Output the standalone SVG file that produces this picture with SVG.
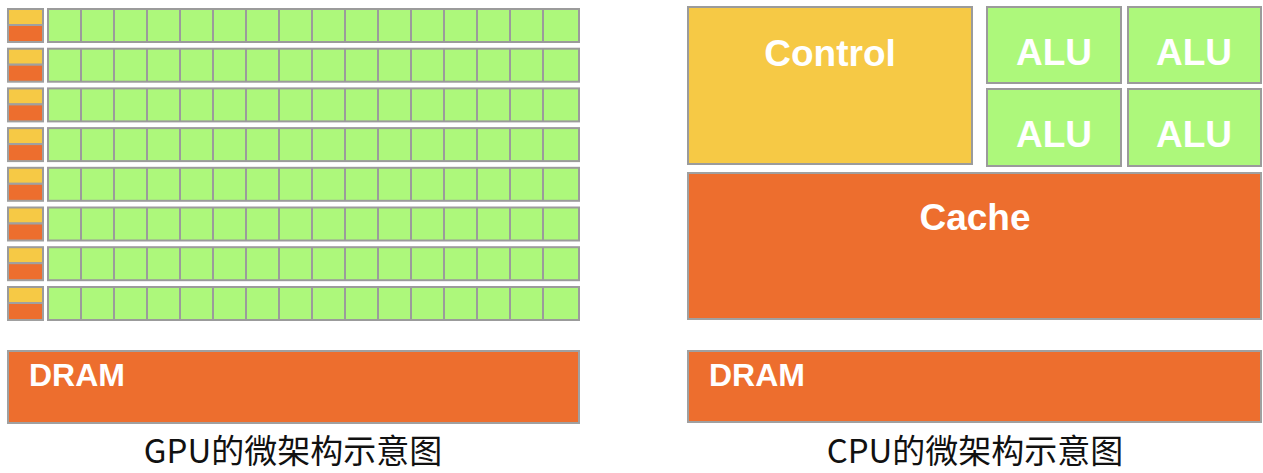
<svg xmlns="http://www.w3.org/2000/svg" xmlns:xlink="http://www.w3.org/1999/xlink" width="1263" height="473" viewBox="0 0 1263 473">
<style>
.g{fill:#adf87b;stroke:#9b9b9b;stroke-width:2}
.y{fill:#f6c945;stroke:#9b9b9b;stroke-width:2}
.o{fill:#ed6e2e;stroke:#a0a0a0;stroke-width:2}
.lbl{font-family:"Liberation Sans",Arial,sans-serif;font-weight:bold;fill:#ffffff}
.cap{font-family:"Noto Sans CJK SC","Noto Sans",sans-serif;font-size:33px;fill:#111111;text-anchor:middle}
</style>
<defs>
<g id="gpuRow">
<rect class="y" x="8" y="0" width="35" height="16"/>
<rect class="o" x="8" y="16" width="35" height="17"/>
<rect class="g" x="48" y="0" width="531" height="33"/>
<path d="M81 0V33M114 0V33M147 0V33M180 0V33M213 0V33M246 0V33M279 0V33M312 0V33M345 0V33M378 0V33M411 0V33M444 0V33M477 0V33M510 0V33M543 0V33" stroke="#9b9b9b" stroke-width="2" fill="none"/>
</g>
</defs>
<g id="gpu">
<g id="gpu-row-1"><use xlink:href="#gpuRow" transform="translate(0,9)"/></g>
<g id="gpu-row-2"><use xlink:href="#gpuRow" transform="translate(0,48.7)"/></g>
<g id="gpu-row-3"><use xlink:href="#gpuRow" transform="translate(0,88.4)"/></g>
<g id="gpu-row-4"><use xlink:href="#gpuRow" transform="translate(0,128.1)"/></g>
<g id="gpu-row-5"><use xlink:href="#gpuRow" transform="translate(0,167.8)"/></g>
<g id="gpu-row-6"><use xlink:href="#gpuRow" transform="translate(0,207.5)"/></g>
<g id="gpu-row-7"><use xlink:href="#gpuRow" transform="translate(0,247.2)"/></g>
<g id="gpu-row-8"><use xlink:href="#gpuRow" transform="translate(0,287)"/></g>
<g id="gpu-dram">
<rect class="o" x="8" y="351" width="571" height="72"/>
<text class="lbl" x="29" y="386" font-size="32">DRAM</text>
</g>
<g id="gpu-caption"><text class="cap" x="293" y="463">GPU的微架构示意图</text></g>
</g>
<g id="cpu">
<g id="cpu-control">
<rect class="y" x="688" y="7" width="284" height="157"/>
<text class="lbl" x="830" y="66" font-size="37" text-anchor="middle">Control</text>
</g>
<g id="cpu-alu-1">
<rect class="g" x="987" y="7" width="134" height="76"/>
<text class="lbl" x="1054" y="65" font-size="37" text-anchor="middle">ALU</text>
</g>
<g id="cpu-alu-2">
<rect class="g" x="1128" y="7" width="133" height="76"/>
<text class="lbl" x="1194" y="65" font-size="37" text-anchor="middle">ALU</text>
</g>
<g id="cpu-alu-3">
<rect class="g" x="987" y="89" width="134" height="77"/>
<text class="lbl" x="1054" y="147" font-size="37" text-anchor="middle">ALU</text>
</g>
<g id="cpu-alu-4">
<rect class="g" x="1128" y="89" width="133" height="77"/>
<text class="lbl" x="1194" y="147" font-size="37" text-anchor="middle">ALU</text>
</g>
<g id="cpu-cache">
<rect class="o" x="688" y="173" width="573" height="146"/>
<text class="lbl" x="975" y="230" font-size="37" text-anchor="middle">Cache</text>
</g>
<g id="cpu-dram">
<rect class="o" x="688" y="351" width="573" height="71"/>
<text class="lbl" x="709" y="386" font-size="32">DRAM</text>
</g>
<g id="cpu-caption"><text class="cap" x="975" y="463">CPU的微架构示意图</text></g>
</g>
<g id="connectors"/>
</svg>
